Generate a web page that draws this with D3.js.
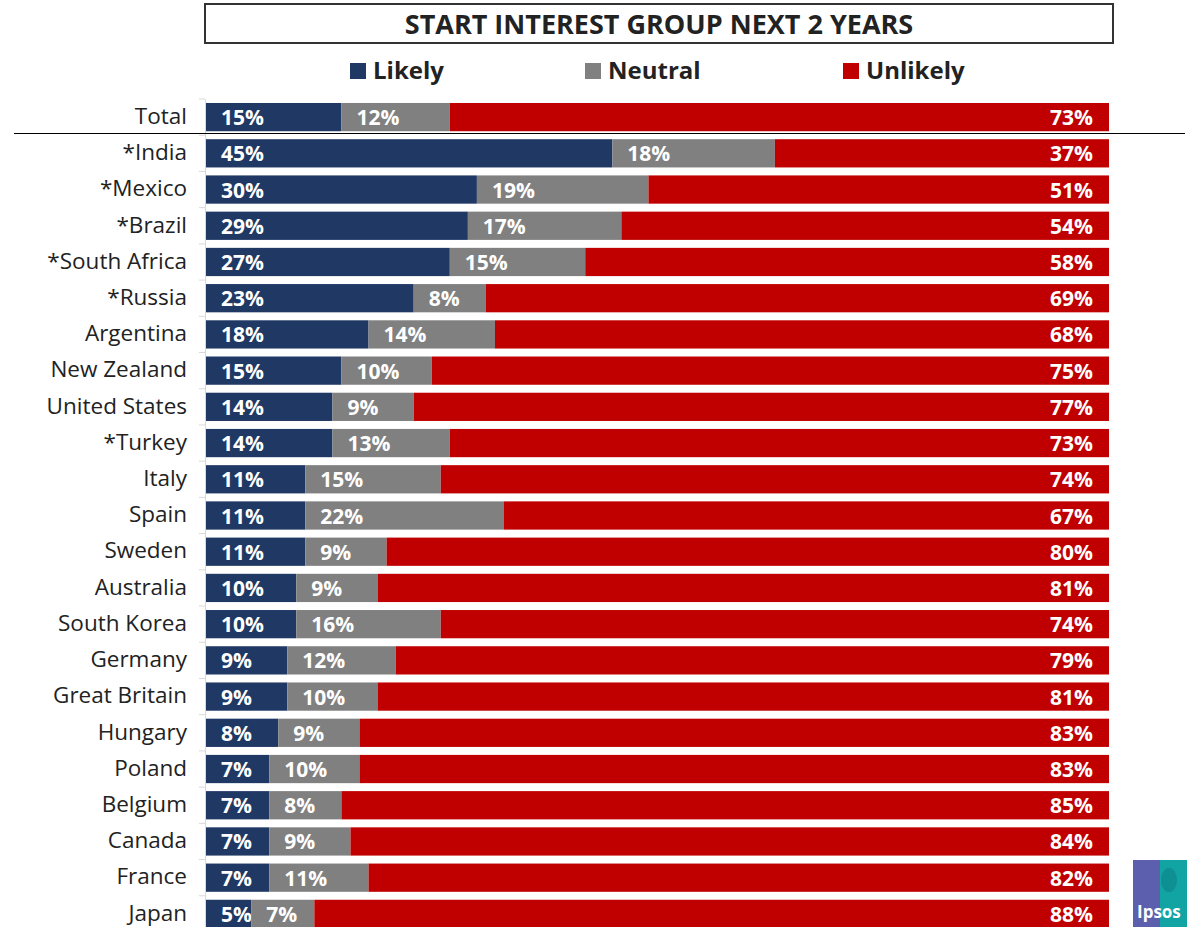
<!DOCTYPE html>
<html><head><meta charset="utf-8">
<script src="https://cdn.jsdelivr.net/npm/d3@7"></script>
<style>body{margin:0;background:#fff}svg{display:block}</style>
</head><body>
<script>
const categories = ["Total","*India","*Mexico","*Brazil","*South Africa","*Russia","Argentina","New Zealand","United States","*Turkey","Italy","Spain","Sweden","Australia","South Korea","Germany","Great Britain","Hungary","Poland","Belgium","Canada","France","Japan"];
const likely   = [15,45,30,29,27,23,18,15,14,14,11,11,11,10,10,9,9,8,7,7,7,7,5];
const neutral  = [12,18,19,17,15,8,14,10,9,13,15,22,9,9,16,12,10,9,10,8,9,11,7];
const unlikely = [73,37,51,54,58,69,68,75,77,73,74,67,80,81,74,79,81,83,83,85,84,82,88];
const seriesNames = ["Likely","Neutral","Unlikely"];
const colors = ["#1f3864","#808080","#c00000"];
const title = "START INTEREST GROUP NEXT 2 YEARS";

const W = 1187, H = 927;
const svg = d3.select("body").append("svg").attr("width", W).attr("height", H);
const font = "'Open Sans', 'Liberation Sans', sans-serif";

const x = d3.scaleLinear().domain([0,100]).range([206,1109]);
const y = d3.scaleBand().domain(categories).range([99, 932]).paddingInner(0.22).paddingOuter(0.11);

const rows = categories.map((c,i)=>({cat:c, vals:[likely[i],neutral[i],unlikely[i]]}));

// title box
svg.append("rect").attr("x",205).attr("y",4).attr("width",908).attr("height",39)
  .attr("fill","#fff").attr("stroke","#333").attr("stroke-width",2);
svg.append("text").attr("x",659).attr("y",34).attr("text-anchor","middle")
  .attr("font-family",font).attr("font-weight","bold").attr("font-size",27).attr("fill","#222").text(title);

// legend
const legX = [350,585,843];
seriesNames.forEach((s,i)=>{
  svg.append("rect").attr("x",legX[i]).attr("y",63).attr("width",16).attr("height",16).attr("fill",colors[i]);
  svg.append("text").attr("x",legX[i]+23).attr("y",79).attr("font-family",font).attr("font-weight","bold")
    .attr("font-size",24).attr("fill","#222").text(s);
});

// y axis
const yAxis = d3.axisLeft(y).tickSize(0).tickPadding(18);
const ag = svg.append("g").attr("transform","translate(205,0)").call(yAxis);
ag.select(".domain").attr("stroke","#d9d9d9");
ag.selectAll("text").attr("font-family",font).attr("font-size",22.5).attr("fill","#222").attr("dy","0.3em");
// boundary ticks
const step = y.step();
const bounds = d3.range(categories.length+1).map(i => y(categories[0]) - y.paddingInner()*step/2 + i*step);
svg.append("g").selectAll("line").data(bounds).join("line")
  .attr("x1",199).attr("x2",205).attr("y1",d=>d).attr("y2",d=>d).attr("stroke","#d9d9d9");

// bars
const g = svg.append("g");
rows.forEach(r=>{
  let acc = 0;
  r.vals.forEach((v,i)=>{
    const x0 = x(acc), x1 = x(acc+v);
    g.append("rect").attr("x",x0).attr("y",y(r.cat)).attr("width",x1-x0).attr("height",y.bandwidth()).attr("fill",colors[i]);
    const t = g.append("text").attr("y",y(r.cat)+y.bandwidth()/2+8)
      .attr("font-family",font).attr("font-weight","bold").attr("font-size",21).attr("fill","#fff").text(v+"%");
    if(i===2) t.attr("x",x1-16).attr("text-anchor","end");
    else t.attr("x",x0 + 15).attr("text-anchor","start");
    acc += v;
  });
});

// separator line
svg.append("line").attr("x1",14).attr("x2",1185).attr("y1",133.5).attr("y2",133.5).attr("stroke","#000").attr("stroke-width",1.2);

// Ipsos logo
const logo = svg.append("g").attr("transform","translate(1133,860)");
logo.append("rect").attr("width",54).attr("height",67).attr("fill","#5b5fae");
logo.append("rect").attr("x",27).attr("width",27).attr("height",67).attr("fill","#12a3a3");
logo.append("ellipse").attr("cx",36).attr("cy",20).attr("rx",8).attr("ry",12).attr("fill","#0e8f92");
logo.append("text").attr("x",4).attr("y",58).attr("font-family",font).attr("font-weight","bold")
  .attr("font-size",17).attr("fill","#fff").text("Ipsos");
</script>
</body></html>
